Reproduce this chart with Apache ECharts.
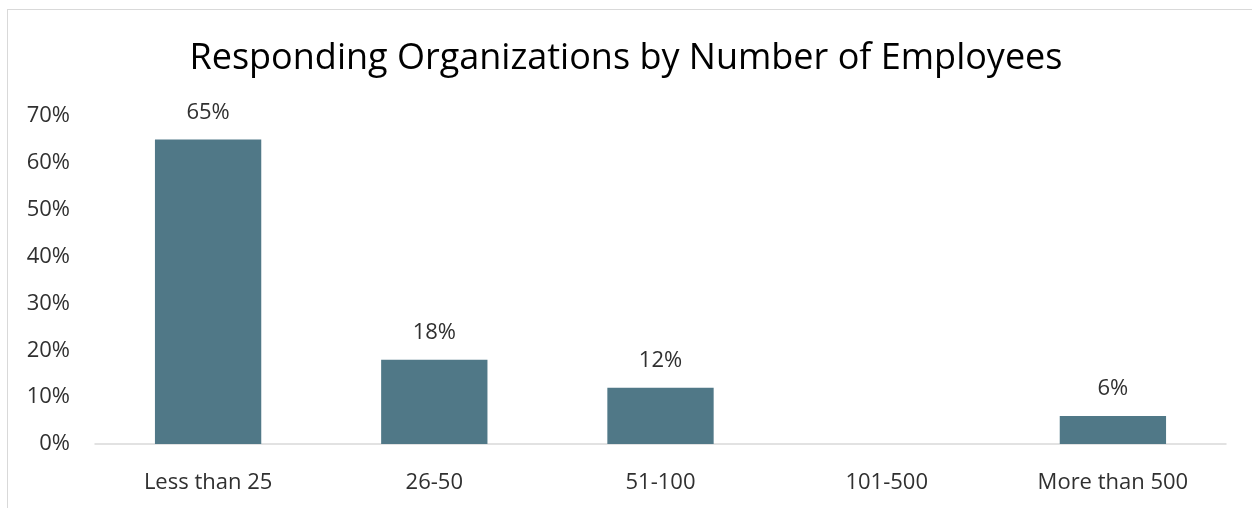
<!DOCTYPE html>
<html>
<head>
<meta charset="utf-8">
<script src="https://cdn.jsdelivr.net/npm/echarts@6/dist/echarts.min.js"></script>
<style>
  html, body { margin: 0; padding: 0; background: #fff; }
  #frame { position: absolute; left: 7px; top: 9px; width: 1250px; height: 510px; border: 1px solid #d9d9d9; box-sizing: border-box; }
  #chart { width: 1252px; height: 508px; position: absolute; left: 0; top: 0; }
</style>
</head>
<body>
<div id="frame"></div>
<div id="chart"></div>
<script>
const categories = ['Less than 25', '26-50', '51-100', '101-500', 'More than 500'];
const shares = [65, 18, 12, 0, 6];
const titleText = 'Responding Organizations by Number of Employees';

const FONT = 'Open Sans';
const chart = echarts.init(document.getElementById('chart'));
chart.setOption({
  animation: false,
  textStyle: { fontFamily: FONT },
  title: {
    text: titleText,
    left: 'center',
    top: 36,
    textStyle: { fontFamily: FONT, fontSize: 36, fontWeight: 'normal', color: '#000' }
  },
  grid: { left: 95, right: 26, top: 116, bottom: 64 },
  xAxis: {
    type: 'category',
    data: categories,
    axisLine: { lineStyle: { color: '#d9d9d9', width: 1.5 } },
    axisTick: { show: false },
    axisLabel: { fontSize: 22, color: '#303030', margin: 28 }
  },
  yAxis: {
    type: 'value',
    min: 0,
    max: 70,
    interval: 10,
    splitLine: { show: false },
    axisLine: { show: false },
    axisTick: { show: false },
    axisLabel: { fontSize: 22, color: '#303030', margin: 25, formatter: '{value}%' }
  },
  series: [{
    type: 'bar',
    data: shares.map(v => v === 0 ? null : v),
    barWidth: '47%',
    itemStyle: { color: '#507887' },
    label: {
      show: true,
      position: 'top',
      distance: 16,
      fontSize: 22,
      color: '#303030',
      formatter: p => p.value + '%'
    }
  }]
});
</script>
</body>
</html>
